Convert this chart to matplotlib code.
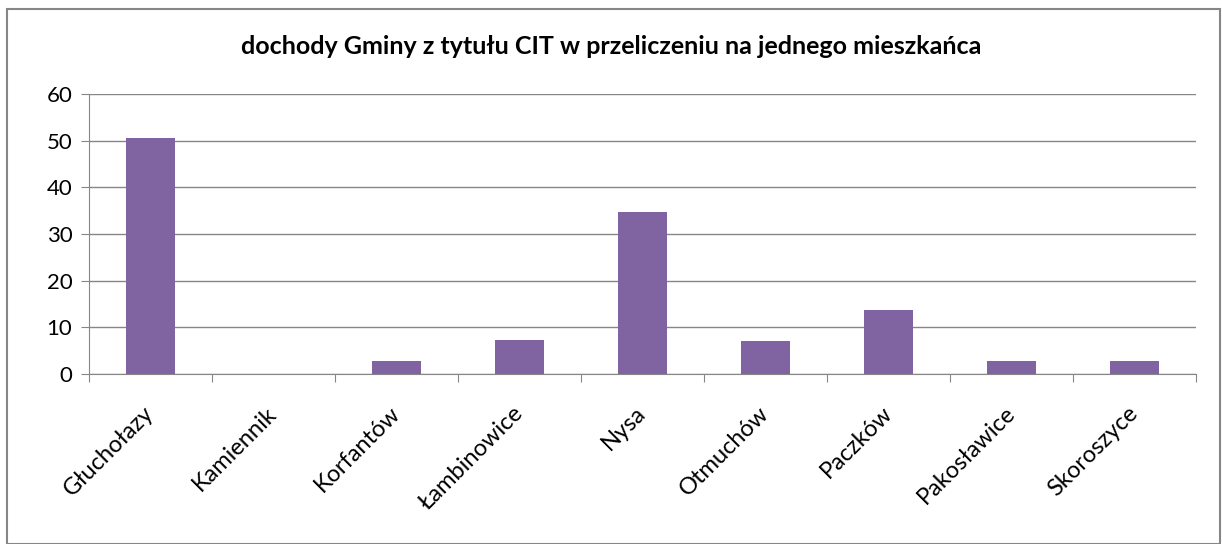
import matplotlib
matplotlib.use("Agg")
import matplotlib.pyplot as plt
from matplotlib.patches import Rectangle
import numpy as np

# data
gminy = ["Głuchołazy", "Kamiennik", "Korfantów", "Łambinowice", "Nysa",
         "Otmuchów", "Paczków", "Pakosławice", "Skoroszyce"]
cit_na_mieszkanca = [50.6, 0.1, 2.8, 7.3, 34.7, 7.1, 13.7, 2.7, 2.85]
y_ticks = [0, 10, 20, 30, 40, 50, 60]

plt.rcParams["font.family"] = ["Lato", "DejaVu Sans"]

fig = plt.figure(figsize=(12.22, 5.44), dpi=100)
ax = fig.add_axes([89 / 1222, 1 - 374 / 544, (1196 - 89) / 1222, 280 / 544])

x = np.arange(len(gminy))
ax.bar(x, cit_na_mieszkanca, width=0.4, color="#8064A2", zorder=3)

ax.set_xlim(-0.5, len(gminy) - 0.5)
ax.set_ylim(0, 60)
ax.set_yticks(y_ticks)
ax.tick_params(axis="y", labelsize=16, length=6, color="#868686", pad=6)

# category ticks sit between the bars, labels under bar centres
ax.set_xticks(np.arange(len(gminy) + 1) - 0.5)
ax.set_xticklabels([])
ax.set_xticks(x, minor=True)
ax.set_xticklabels(gminy, minor=True, rotation=45, ha="right", va="center",
                   rotation_mode="anchor", fontsize=17)
ax.tick_params(axis="x", which="major", length=6, color="#868686")
ax.tick_params(axis="x", which="minor", length=0, pad=26)

ax.grid(axis="y", color="#868686", linewidth=1, zorder=0)
for side in ["top", "right"]:
    ax.spines[side].set_visible(False)
ax.spines["left"].set_color("#868686")
ax.spines["bottom"].set_color("#868686")

fig.text(0.5, 1 - 47 / 544, "dochody Gminy z tytułu CIT w przeliczeniu na jednego mieszkańca",
         ha="center", va="center", fontsize=18, fontweight="bold")

fig.patches.append(Rectangle((7 / 1222, 0.0), 1 - 9 / 1222, 1 - 9 / 544,
                             transform=fig.transFigure, fill=False,
                             edgecolor="#868686", linewidth=1.5))

fig.savefig("out.png", dpi=100)
